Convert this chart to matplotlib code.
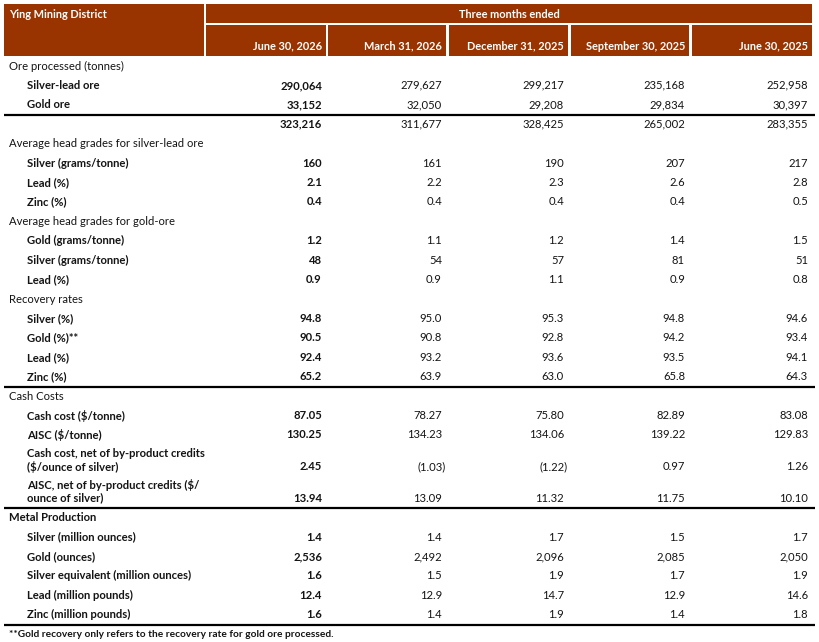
"""Ying Mining District quarterly operating table, redrawn with matplotlib."""

import matplotlib.pyplot as plt

plt.rcParams["font.family"] = ["Lato", "DejaVu Sans"]

TITLE = "Ying Mining District"
SPAN = "Three months ended"
PERIODS = ["June 30, 2026", "March 31, 2026", "December 31, 2025",
           "September 30, 2025", "June 30, 2025"]

silver_lead_ore = [290064, 279627, 299217, 235168, 252958]
gold_ore = [33152, 32050, 29208, 29834, 30397]
ore_total = [323216, 311677, 328425, 265002, 283355]

sl_silver_grade = [160, 161, 190, 207, 217]
sl_lead_grade = [2.1, 2.2, 2.3, 2.6, 2.8]
sl_zinc_grade = [0.4, 0.4, 0.4, 0.4, 0.5]

go_gold_grade = [1.2, 1.1, 1.2, 1.4, 1.5]
go_silver_grade = [48, 54, 57, 81, 51]
go_lead_grade = [0.9, 0.9, 1.1, 0.9, 0.8]

rec_silver = [94.8, 95.0, 95.3, 94.8, 94.6]
rec_gold = [90.5, 90.8, 92.8, 94.2, 93.4]
rec_lead = [92.4, 93.2, 93.6, 93.5, 94.1]
rec_zinc = [65.2, 63.9, 63.0, 65.8, 64.3]

cash_cost_tonne = [87.05, 78.27, 75.80, 82.89, 83.08]
aisc_tonne = [130.25, 134.23, 134.06, 139.22, 129.83]
cash_cost_oz = [2.45, -1.03, -1.22, 0.97, 1.26]
aisc_oz = [13.94, 13.09, 11.32, 11.75, 10.10]

prod_silver = [1.4, 1.4, 1.7, 1.5, 1.7]
prod_gold = [2536, 2492, 2096, 2085, 2050]
prod_silver_eq = [1.6, 1.5, 1.9, 1.7, 1.9]
prod_lead = [12.4, 12.9, 14.7, 12.9, 14.6]
prod_zinc = [1.6, 1.4, 1.9, 1.4, 1.8]

FOOTNOTE = "**Gold recovery only refers to the recovery rate for gold ore processed."

# (label, values, decimals, kind, rule_after)
ROWS = [
    ("Ore processed (tonnes)", None, 0, "section", False),
    ("Silver-lead ore", silver_lead_ore, 0, "item", False),
    ("Gold ore", gold_ore, 0, "item", True),
    ("", ore_total, 0, "item", False),
    ("Average head grades for silver-lead ore", None, 0, "section", False),
    ("Silver (grams/tonne)", sl_silver_grade, 0, "item", False),
    ("Lead (%)", sl_lead_grade, 1, "item", False),
    ("Zinc (%)", sl_zinc_grade, 1, "item", False),
    ("Average head grades for gold-ore", None, 0, "section", False),
    ("Gold (grams/tonne)", go_gold_grade, 1, "item", False),
    ("Silver (grams/tonne)", go_silver_grade, 0, "item", False),
    ("Lead (%)", go_lead_grade, 1, "item", False),
    ("Recovery rates", None, 0, "section", False),
    ("Silver (%)", rec_silver, 1, "item", False),
    ("Gold (%)**", rec_gold, 1, "item", False),
    ("Lead (%)", rec_lead, 1, "item", False),
    ("Zinc (%)", rec_zinc, 1, "item", True),
    ("Cash Costs", None, 0, "section", False),
    ("Cash cost ($/tonne)", cash_cost_tonne, 2, "item", False),
    ("AISC ($/tonne)", aisc_tonne, 2, "item", False),
    ("Cash cost, net of by-product credits\n($/ounce of silver)", cash_cost_oz, 2, "item", False),
    ("AISC, net of by-product credits ($/\nounce of silver)", aisc_oz, 2, "item", True),
    ("Metal Production", None, 0, "section_bold", False),
    ("Silver (million ounces)", prod_silver, 1, "item", False),
    ("Gold (ounces)", prod_gold, 0, "item", False),
    ("Silver equivalent (million ounces)", prod_silver_eq, 1, "item", False),
    ("Lead (million pounds)", prod_lead, 1, "item", False),
    ("Zinc (million pounds)", prod_zinc, 1, "item", True),
]

BROWN = "#993300"
INK = "#141414"
FS = 8.1

W, H = 819, 642
col_left = [206, 328, 449, 571, 692]
col_right = [326, 446, 568, 689, 812]
text_right = [r - 4 for r in col_right]


def fmt(v, dec):
    s = f"{abs(v):,.{dec}f}"
    return f"({s})" if v < 0 else s


fig = plt.figure(figsize=(W / 100, H / 100), dpi=100)
ax = fig.add_axes([0, 0, 1, 1])
ax.set_xlim(0, W)
ax.set_ylim(H, 0)
ax.axis("off")

# header blocks
ax.add_patch(plt.Rectangle((4, 4), 200, 52, color=BROWN, lw=0))
ax.add_patch(plt.Rectangle((206, 4), 606, 18.5, color=BROWN, lw=0))
for x0, x1 in zip(col_left, col_right):
    ax.add_patch(plt.Rectangle((x0, 25), x1 - x0, 31, color=BROWN, lw=0))
ax.text(9, 14, TITLE, color="white", fontsize=FS - 0.2, fontweight="bold", va="center")
ax.text(509, 14, SPAN, color="white", fontsize=FS - 0.2, fontweight="bold",
        va="center", ha="center")
for xr, p in zip(text_right, PERIODS):
    ax.text(xr, 46, p, color="white", fontsize=FS - 0.2, fontweight="bold",
            va="center", ha="right")

step, step2 = 19.42, 31.6
y = 66
prev = None
for label, vals, dec, kind, rule in ROWS:
    two = "\n" in label
    if prev is not None:
        y += step2 if two else step
    if kind.startswith("section"):
        ax.text(9, y, label, fontsize=FS, color=INK, va="center",
                fontweight="bold" if kind == "section_bold" else "normal")
    else:
        if two:
            top, bottom = label.split("\n")
            ax.text(27, y - 13, top, fontsize=FS, color=INK, va="center",
                    fontweight="bold")
            ax.text(27, y, bottom, fontsize=FS, color=INK, va="center",
                    fontweight="bold")
        elif label:
            ax.text(27, y, label, fontsize=FS, color=INK, va="center",
                    fontweight="bold")
        for i, (xr, v) in enumerate(zip(text_right, vals)):
            ax.text(xr + (4 if v < 0 else 0), y, fmt(v, dec), fontsize=FS,
                    color=INK, va="center", ha="right",
                    fontweight="bold" if i == 0 else "normal")
    if rule:
        ax.plot([4, 815], [y + 9.8, y + 9.8], color="black", lw=1.6,
                solid_capstyle="butt")
    prev = kind

ax.text(9, y + 19.4, FOOTNOTE, fontsize=FS - 0.8, color=INK, va="center",
        fontweight="bold")

fig.savefig("out.png", dpi=100)
